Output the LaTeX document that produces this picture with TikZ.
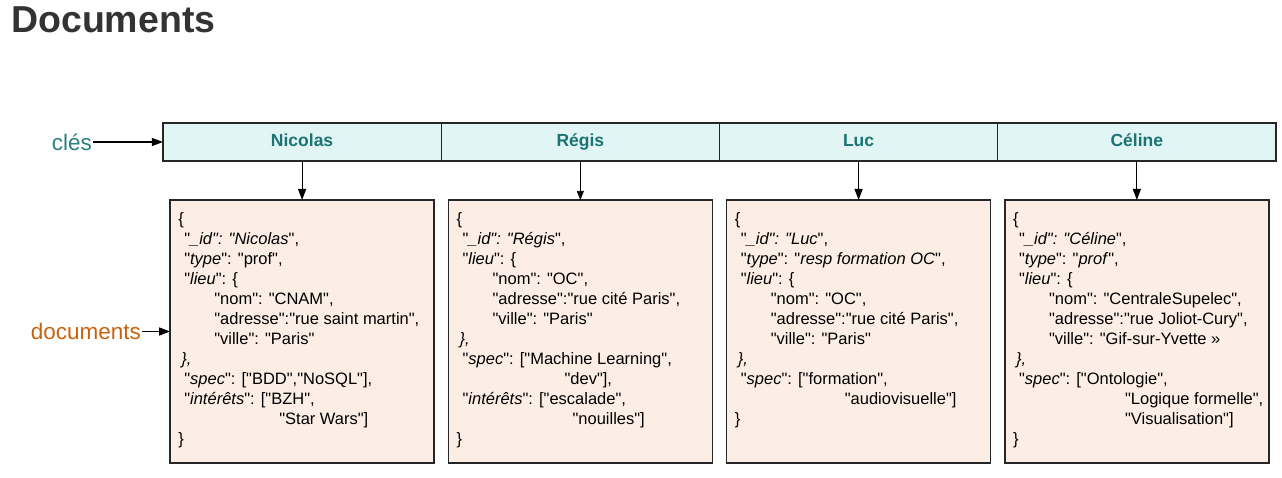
\documentclass[tikz,border=0pt]{standalone}
\usepackage{fontspec}
\setmainfont{Liberation Sans}[Ligatures=TeXOff]
\usepackage{xcolor}
\usepackage{tikz}
\usetikzlibrary{positioning, calc, arrows.meta}
\definecolor{KeyFill}{HTML}{E1F5F5}
\definecolor{KeyText}{HTML}{1B7373}
\definecolor{ClesColor}{HTML}{2A8080}
\definecolor{DocsColor}{HTML}{C8620F}
\definecolor{DocFill}{HTML}{FCEEE4}
\definecolor{TitleColor}{HTML}{333333}
\tikzset{
    keybox/.style={
        rectangle,
        minimum width=278.25pt,
        minimum height=38pt,
        text height=12.5pt,
        text depth=3.5pt,
        outer sep=0pt,
        draw=black!85,
        line width=1.2pt,
        fill=KeyFill,
        text=KeyText,
        font=\fontsize{17.5}{20}\selectfont\bfseries
    },
    docbox/.style={
        rectangle,
        minimum width=264pt,
        minimum height=263pt,
        outer sep=0pt,
        draw=black!85,
        line width=1.4pt,
        fill=DocFill
    },
    doctext/.style={
        inner sep=0pt,
        align=left,
        font=\fontsize{16.5}{20}\selectfont
    },
    label/.style={inner sep=1pt, font=\fontsize{22.5}{26}\selectfont},
    arrow/.style={-{Triangle[length=11pt,width=8pt]}, line width=1.2pt, draw=black},
    thinarrow/.style={-{Triangle[length=9pt,width=7pt]}, line width=0.6pt, draw=black}
}

\begin{document}
\begin{tikzpicture}[x=1pt, y=1pt]
\useasboundingbox (0,0) rectangle (1282,477);

% Title
\node[anchor=base west, inner sep=0pt, text=TitleColor,
      font=\fontsize{37.5}{40}\selectfont\bfseries] (title) at (11,444) {Documents};

% Keys
\node[keybox] (k1) at (302.1,335) {Nicolas};
\node[keybox, right=0pt of k1] (k2) {Régis};
\node[keybox, right=0pt of k2] (k3) {Luc};
\node[keybox, right=0pt of k3] (k4) {Céline};

\node[label, text=ClesColor, left=70pt of k1] (cles) {clés};
\draw[arrow] (cles.east) -- (k1.west);

% Documents
\node[docbox, below=39pt of k1] (d1) {};
\node[docbox, below=39pt of k2] (d2) {};
\node[docbox, below=39pt of k3] (d3) {};
\node[docbox, below=39pt of k4] (d4) {};

\node[label, text=DocsColor, left=28pt of d1] (docs) {documents};
\draw[arrow] (docs.east) -- (docs.east -| d1.west);

% Keys to documents
\foreach \i in {1,3,4}
    \draw[arrow] (k\i.south) -- (k\i.south |- d\i.north);
\draw[thinarrow] (k2.south) -- (k2.south |- d2.north);

% Contents
\node[doctext, below right=10pt and 8pt of d1.north west] (t1) {%
\strut\{\\
\hspace*{6pt}"\textit{\_id": "Nicolas}",\\
\hspace*{6pt}"\textit{type}": "prof",\\
\hspace*{6pt}"\textit{lieu}": \{\\
\hspace*{36pt}"nom": "CNAM",\\
\hspace*{36pt}"adresse":"rue saint martin",\\
\hspace*{36pt}"ville": "Paris"\\
\hspace*{3pt}\textit{\},}\\
\hspace*{6pt}"\textit{spec}": ["BDD","NoSQL"],\\
\hspace*{6pt}"\textit{intérêts}": ["BZH",\\
\hspace*{101pt}"Star Wars"]\\
\}};

\node[doctext, below right=10pt and 8pt of d2.north west] (t2) {%
\strut\{\\
\hspace*{6pt}"\textit{\_id": "Régis}",\\
\hspace*{6pt}"\textit{lieu}": \{\\
\hspace*{36pt}"nom": "OC",\\
\hspace*{36pt}"adresse":"rue cité Paris",\\
\hspace*{36pt}"ville": "Paris"\\
\hspace*{3pt}\textit{\},}\\
\hspace*{6pt}"\textit{spec}": ["Machine Learning",\\
\hspace*{108pt}"dev"],\\
\hspace*{6pt}"\textit{intérêts}": ["escalade",\\
\hspace*{116pt}"nouilles"]\\
\}};

\node[doctext, below right=10pt and 8pt of d3.north west] (t3) {%
\strut\{\\
\hspace*{6pt}"\textit{\_id": "Luc}",\\
\hspace*{6pt}"\textit{type}": "\textit{resp formation OC}",\\
\hspace*{6pt}"\textit{lieu}": \{\\
\hspace*{36pt}"nom": "OC",\\
\hspace*{36pt}"adresse":"rue cité Paris",\\
\hspace*{36pt}"ville": "Paris"\\
\hspace*{3pt}\textit{\},}\\
\hspace*{6pt}"\textit{spec}": ["formation",\\
\hspace*{110pt}"audiovisuelle"]\\
\}};

\node[doctext, below right=10pt and 8pt of d4.north west] (t4) {%
\strut\{\\
\hspace*{6pt}"\textit{\_id": "Céline}",\\
\hspace*{6pt}"\textit{type}": "\textit{prof}",\\
\hspace*{6pt}"\textit{lieu}": \{\\
\hspace*{36pt}"nom": "CentraleSupelec",\\
\hspace*{36pt}"adresse":"rue Joliot-Cury",\\
\hspace*{36pt}"ville": "Gif-sur-Yvette »\\
\hspace*{3pt}\textit{\},}\\
\hspace*{6pt}"\textit{spec}": ["Ontologie",\\
\hspace*{112pt}"Logique formelle",\\
\hspace*{112pt}"Visualisation"]\\
\}};

\end{tikzpicture}
\end{document}
